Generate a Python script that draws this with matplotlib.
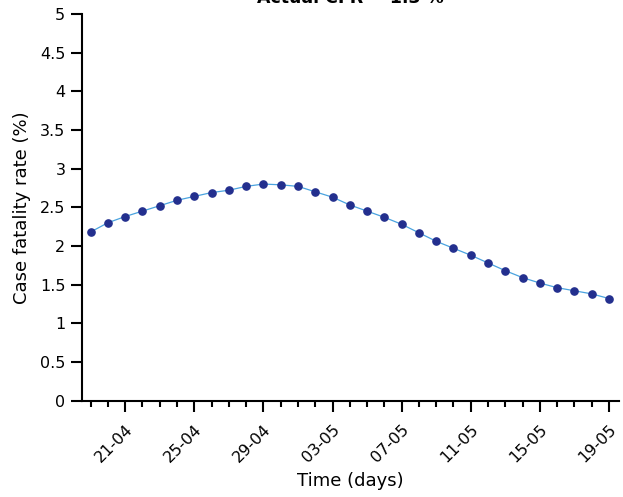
import matplotlib
matplotlib.use('Agg')
import matplotlib.pyplot as plt
import matplotlib.dates as mdates
import numpy as np
import pandas as pd

# daily CFR estimate, 19-04 to 19-05
dates = pd.date_range('2020-04-19', '2020-05-19', freq='D')
cfr = [2.18, 2.30, 2.38, 2.45, 2.52, 2.59, 2.64, 2.69, 2.72, 2.77, 2.80,
       2.79, 2.77, 2.70, 2.63, 2.53, 2.45, 2.37, 2.28, 2.17, 2.06, 1.97,
       1.88, 1.78, 1.68, 1.59, 1.52, 1.46, 1.42, 1.38, 1.32]
actual_cfr = 1.3
major_dates = pd.date_range('2020-04-21', '2020-05-19', freq='4D')

fig = plt.figure(figsize=(6.23, 4.97), dpi=100)
ax = fig.add_axes([0.1316, 0.194, 0.862, 0.778])

ax.plot(dates, cfr, '-', color='#4aa3df', lw=0.9, zorder=2)
ax.plot(dates, cfr, 'o', color='#232f8e', ms=5.2, zorder=3)

ax.set_ylim(0, 5)
ax.set_yticks(np.arange(0, 5.01, 0.5))
ax.set_yticklabels(['0', '0.5', '1', '1.5', '2', '2.5', '3', '3.5', '4', '4.5', '5'])
ax.set_xlim(dates[0] - pd.Timedelta(hours=12), dates[-1] + pd.Timedelta(hours=14))

ax.set_xticks(major_dates)
ax.xaxis.set_major_formatter(mdates.DateFormatter('%d-%m'))
ax.set_xticks(dates, minor=True)

for s in ['top', 'right']:
    ax.spines[s].set_visible(False)
for s in ['left', 'bottom']:
    ax.spines[s].set_linewidth(1.5)

ax.tick_params(axis='both', which='major', length=8, width=1.5, labelsize=11.5, pad=4)
ax.tick_params(axis='x', which='major', pad=7)
ax.tick_params(axis='x', which='minor', length=4.5, width=1.5)
plt.setp(ax.get_xticklabels(), rotation=45, ha='right', rotation_mode='anchor')

ax.set_xlabel('Time (days)', fontsize=13, labelpad=5)
ax.set_ylabel('Case fatality rate (%)', fontsize=13, labelpad=6)
ax.set_title('Actual CFR = ' + str(actual_cfr) + ' %', fontsize=12.5, fontweight='bold', pad=8)

fig.savefig('out.png', dpi=100)
